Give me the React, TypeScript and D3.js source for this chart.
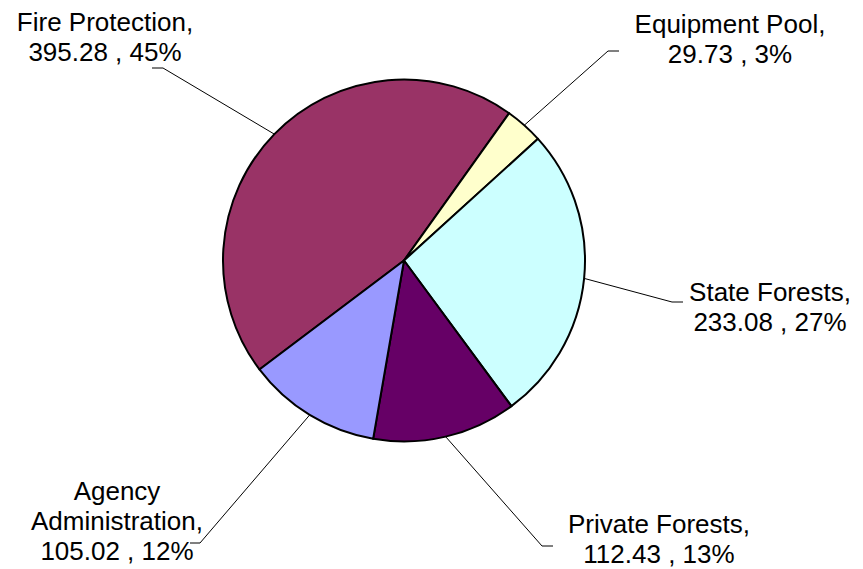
import React from "react";
import * as d3 from "d3";

// ---- Data ----
const categories = [
  "Fire Protection",
  "Equipment Pool",
  "State Forests",
  "Private Forests",
  "Agency Administration",
];
const values = [395.28, 29.73, 233.08, 112.43, 105.02];
const percentLabels = ["45%", "3%", "27%", "13%", "12%"];
const colors = ["#993366", "#FFFFCC", "#CCFFFF", "#660066", "#9999FF"];
// label text lines, as shown on chart
const labelLines = [
  ["Fire Protection,", "395.28 , 45%"],
  ["Equipment Pool,", "29.73 , 3%"],
  ["State Forests,", "233.08 , 27%"],
  ["Private Forests,", "112.43 , 13%"],
  ["Agency", "Administration,", "105.02 , 12%"],
];

// ---- Layout ----
const W = 863;
const H = 569;
const CX = 404;
const CY = 260.5;
const R = 181;
const START_DEG = -127.0;
const FONT = 26;
const LINE_H = 30;
// label layout: text center x, first baseline y, leader elbow point, horizontal end x
const labelLayout = [
  { tx: 105, ty: 31, ex: 163, ey: 68, hx: 152 },
  { tx: 730, ty: 33, ex: 608, ey: 51, hx: 619 },
  { tx: 770, ty: 301, ex: 672, ey: 302, hx: 683 },
  { tx: 659, ty: 533, ex: 542, ey: 546, hx: 553 },
  { tx: 117, ty: 500, ex: 200, ey: 543, hx: 190 },
];

export default function App() {
  const start = (START_DEG * Math.PI) / 180;
  const pie = d3
    .pie<number>()
    .sort(null)
    .value((d) => d)
    .startAngle(start)
    .endAngle(start + 2 * Math.PI);
  const arcs = pie(values);
  const arc = d3.arc<d3.PieArcDatum<number>>().innerRadius(0).outerRadius(R);

  return (
    <div style={{ position: "absolute", left: 0, top: 0 }}>
      <svg width={W} height={H} style={{ display: "block", background: "#fff" }}>
        <g transform={`translate(${CX},${CY})`}>
          {arcs.map((a, i) => (
            <path
              key={categories[i]}
              d={arc(a) || ""}
              fill={colors[i]}
              stroke="#000"
              strokeWidth={2}
              strokeLinejoin="round"
            />
          ))}
        </g>
        {arcs.map((a, i) => {
          const mid = (a.startAngle + a.endAngle) / 2;
          const px = CX + R * Math.sin(mid);
          const py = CY - R * Math.cos(mid);
          const L = labelLayout[i];
          return (
            <polyline
              key={"l" + i}
              points={`${px},${py} ${L.ex},${L.ey} ${L.hx},${L.ey}`}
              fill="none"
              stroke="#000"
              strokeWidth={1}
            />
          );
        })}
        {labelLines.map((lines, i) => {
          const L = labelLayout[i];
          return (
            <text
              key={"t" + i}
              textAnchor="middle"
              fontFamily="'Liberation Sans', Arial, sans-serif"
              fontSize={FONT}
              fill="#000"
            >
              {lines.map((s, j) => (
                <tspan key={j} x={L.tx} y={L.ty + j * LINE_H}>
                  {s}
                </tspan>
              ))}
            </text>
          );
        })}
      </svg>
    </div>
  );
}
